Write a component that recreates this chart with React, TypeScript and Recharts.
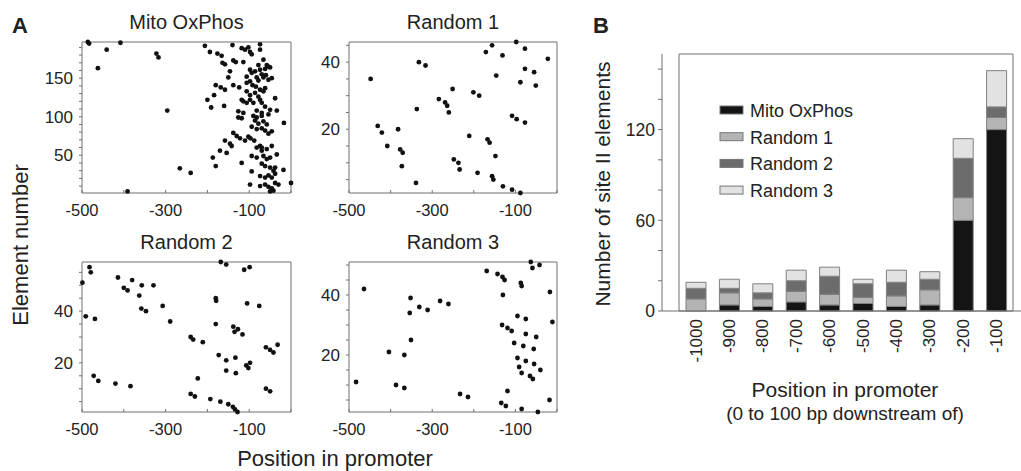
import React from 'react';
import {
  ScatterChart,
  Scatter,
  XAxis,
  YAxis,
  ReferenceArea,
  BarChart,
  Bar,
} from 'recharts';

// ---- panel A: element positions (x = position in promoter, y = element number)
const mitoOxPhos: [number, number][] = [
  [-486, 197], [-483, 195], [-441, 187], [-408, 196], [-462, 163], [-322, 182], [-317, 177],
  [-296, 108], [-266, 33], [-240, 27], [-391, 3],
  [-206, 192], [-194, 184], [-176, 182], [-166, 179], [-140, 193], [-118, 189], [-110, 187],
  [-102, 190], [-98, 184], [-94, 181], [-74, 194], [-74, 187],
  [-164, 170], [-158, 168], [-138, 173], [-132, 171], [-114, 171], [-66, 174], [-78, 167],
  [-58, 167], [-50, 164],
  [-146, 159], [-98, 161], [-94, 157], [-86, 159], [-74, 161], [-70, 155], [-62, 162], [-54, 165],
  [-150, 151], [-106, 152], [-82, 151], [-78, 147], [-66, 151], [-60, 154], [-54, 148], [-46, 150],
  [-180, 141], [-168, 138], [-158, 135], [-184, 128], [-200, 122], [-138, 141], [-124, 138],
  [-106, 144], [-98, 146], [-92, 141], [-84, 139], [-74, 135], [-66, 133], [-106, 133], [-98, 128],
  [-86, 131], [-78, 126], [-62, 137], [-38, 124],
  [-191, 112], [-160, 114], [-118, 122], [-114, 120], [-106, 118], [-98, 122], [-90, 118],
  [-74, 122], [-70, 118], [-62, 113], [-50, 109],
  [-126, 107], [-114, 105], [-82, 108], [-70, 105], [-54, 103], [-34, 108],
  [-126, 99], [-118, 98], [-90, 101], [-82, 99], [-70, 101],
  [-86, 95], [-78, 91], [-66, 94], [-58, 90], [-17, 92],
  [-94, 87], [-82, 84], [-70, 85], [-62, 82], [-54, 78], [-46, 81],
  [-138, 79], [-130, 75], [-122, 72], [-110, 69], [-102, 74], [-97, 72], [-88, 69],
  [-158, 69], [-146, 65], [-142, 62],
  [-74, 62], [-70, 60], [-58, 58], [-82, 60], [-70, 56], [-46, 62], [-34, 51],
  [-170, 56], [-154, 53],
  [-94, 49], [-82, 47], [-66, 49], [-58, 45], [-50, 47],
  [-187, 47], [-180, 36], [-118, 40],
  [-70, 39], [-62, 36], [-50, 34], [-42, 30], [-38, 34], [-18, 31], [-94, 29],
  [-74, 23], [-62, 21], [-54, 24], [-46, 21], [-38, 26],
  [-98, 12], [-74, 10], [-62, 12], [-54, 9], [-46, 7], [-38, 14], [-30, 12],
  [-50, 3], [-42, 4], [0, 14],
];

const random1: [number, number][] = [
  [-448, 35], [-431, 21], [-421, 19], [-408, 15], [-382, 20], [-377, 14], [-371, 13], [-373, 9],
  [-339, 4], [-337, 26], [-332, 40], [-316, 39], [-284, 29], [-269, 28], [-264, 27], [-260, 25],
  [-251, 32], [-248, 11], [-237, 10], [-234, 8], [-211, 18], [-201, 31], [-187, 30], [-191, 7],
  [-171, 43], [-167, 17], [-162, 16], [-156, 45], [-148, 12], [-146, 36], [-156, 6], [-153, 5],
  [-131, 42], [-130, 3], [-108, 2], [-108, 24], [-97, 23], [-98, 46], [-88, 34], [-88, 1],
  [-77, 44], [-77, 38], [-77, 22], [-55, 37], [-51, 33], [-22, 41],
];

const random2: [number, number][] = [
  [-499, 51], [-491, 38], [-482, 57], [-479, 55], [-469, 37], [-472, 15], [-461, 13], [-420, 12],
  [-414, 53], [-400, 49], [-391, 48], [-384, 11], [-380, 52], [-363, 46], [-357, 50], [-358, 41],
  [-347, 40], [-329, 50], [-307, 42], [-289, 36], [-240, 30], [-234, 29], [-240, 8], [-230, 7],
  [-223, 14], [-211, 28], [-193, 6], [-180, 45], [-179, 44], [-180, 35], [-173, 23], [-169, 5],
  [-168, 59], [-155, 58], [-155, 21], [-155, 17], [-150, 4], [-138, 34], [-127, 33], [-135, 32],
  [-139, 3], [-134, 2], [-133, 22], [-132, 16], [-128, 1], [-116, 31], [-112, 56], [-107, 19],
  [-102, 18], [-105, 43], [-99, 57], [-98, 20], [-76, 42], [-60, 26], [-50, 25], [-42, 24],
  [-32, 27], [-60, 10], [-50, 9],
];

const random3: [number, number][] = [
  [-483, 11], [-464, 42], [-404, 21], [-387, 10], [-367, 20], [-367, 9], [-352, 39], [-354, 34],
  [-351, 25], [-331, 36], [-311, 35], [-281, 38], [-261, 37], [-233, 7], [-214, 6], [-169, 48],
  [-143, 47], [-131, 46], [-126, 45], [-130, 40], [-134, 4], [-123, 3], [-132, 30], [-119, 29],
  [-109, 28], [-119, 8], [-103, 24], [-95, 33], [-95, 19], [-91, 16], [-87, 44], [-85, 43],
  [-85, 14], [-85, 2], [-81, 23], [-75, 32], [-75, 27], [-75, 18], [-63, 51], [-59, 49],
  [-65, 13], [-58, 12], [-56, 22], [-55, 17], [-50, 26], [-46, 1], [-42, 50], [-40, 15],
  [-17, 41], [-18, 5], [-11, 31],
];

const xTicks = [-500, -400, -300, -200, -100, 0];
const xTickLabels = [-500, -300, -100];
const mitoYTicks = [10, 20, 30, 40, 50, 60, 70, 80, 90, 100, 110, 120, 130, 140, 150, 160, 170, 180, 190];
const mitoYLabels = [50, 100, 150];
const randYTicks = [5, 10, 15, 20, 25, 30, 35, 40, 45, 50, 55];
const randYLabels = [20, 40];

// ---- panel B: stacked counts per 100 bp window
const positions = ['-1000', '-900', '-800', '-700', '-600', '-500', '-400', '-300', '-200', '-100'];
const mitoCounts = [0, 4, 3, 6, 4, 5, 3, 4, 60, 120];
const random1Counts = [8, 8, 5, 7, 7, 4, 7, 10, 15, 8];
const random2Counts = [7, 3, 4, 7, 12, 9, 9, 7, 26, 7];
const random3Counts = [4, 6, 6, 7, 6, 3, 8, 5, 13, 24];
const barYTicks = [0, 20, 40, 60, 80, 100, 120, 140, 160];
const barYLabels = [0, 60, 120];

const barData = positions.map((p, i) => ({
  pos: p,
  mito: mitoCounts[i],
  r1: random1Counts[i],
  r2: random2Counts[i],
  r3: random3Counts[i],
}));

const FONT = 'Arial, "Liberation Sans", sans-serif';
const INK = '#222';
const FRAME = '#707070';

const C_MITO = '#141414';
const C_R1 = '#b4b4b4';
const C_R2 = '#6c6c6c';
const C_R3 = '#e2e2e2';

type PanelProps = {
  title: string;
  points: [number, number][];
  yMax: number;
  yTicks: number[];
  yLabels: number[];
  plotLeft: number;
  plotTop: number;
  plotW: number;
  plotH: number;
};

const AXIS_W = 50;
const TOP_PAD = 4;

const Panel = ({ title, points, yMax, yTicks, yLabels, plotLeft, plotTop, plotW, plotH }: PanelProps) => {
  const data = points.map(([x, y]) => ({ x, y }));
  const bottom = TOP_PAD + plotH;
  return (
    <div style={{ position: 'absolute', left: plotLeft - AXIS_W, top: plotTop - TOP_PAD }}>
      <ScatterChart
        width={AXIS_W + plotW + 6}
        height={TOP_PAD + plotH + 30}
        margin={{ top: TOP_PAD, right: 6, bottom: 0, left: 0 }}
      >
        <XAxis
          type="number"
          dataKey="x"
          domain={[-500, 0]}
          ticks={xTicks}
          interval={0}
          height={30}
          axisLine={false}
          tickSize={-3}
          tickLine={{ stroke: FRAME }}
          tick={(p: any) =>
            xTickLabels.includes(p.payload.value) ? (
              <text x={p.x} y={bottom + 23} textAnchor="middle" fontFamily={FONT} fontSize={16.5} fill={INK}>
                {p.payload.value}
              </text>
            ) : (
              <g />
            )
          }
        />
        <YAxis
          type="number"
          dataKey="y"
          domain={[1, yMax]}
          ticks={yTicks.filter((t) => t < yMax)}
          interval={0}
          width={AXIS_W}
          axisLine={false}
          tickSize={3}
          tickLine={{ stroke: FRAME }}
          tick={(p: any) =>
            yLabels.includes(p.payload.value) ? (
              <text x={AXIS_W - 9} y={p.y} dy="0.36em" textAnchor="end" fontFamily={FONT} fontSize={17} fill={INK}>
                {p.payload.value}
              </text>
            ) : (
              <g />
            )
          }
        />
        <ReferenceArea x1={-500} x2={0} y1={1} y2={yMax} fill="none" stroke={FRAME} strokeWidth={1} />
        <Scatter
          data={data}
          isAnimationActive={false}
          shape={(p: any) => <circle cx={p.cx} cy={p.cy} r={2.4} fill="#111" />}
        />
      </ScatterChart>
      <div
        style={{
          position: 'absolute',
          left: AXIS_W,
          width: plotW,
          top: TOP_PAD - 30,
          textAlign: 'center',
          fontFamily: FONT,
          fontSize: 20,
          color: INK,
          lineHeight: '20px',
        }}
      >
        {title}
      </div>
    </div>
  );
};

const BarXTick = ({ x, y, payload }: any) => (
  <text
    x={x}
    y={y}
    dy="0.35em"
    textAnchor="end"
    transform={`rotate(-90, ${x}, ${y})`}
    fontFamily={FONT}
    fontSize={17}
    fill={INK}
  >
    {payload.value}
  </text>
);

const BarYTick = ({ x, y, payload }: any) =>
  barYLabels.includes(payload.value) ? (
    <text x={x} y={y} dx={-1} dy="0.36em" textAnchor="end" fontFamily={FONT} fontSize={17.5} fill={INK}>
      {payload.value}
    </text>
  ) : (
    <g />
  );

const legendItems = [
  { label: 'Mito OxPhos', color: C_MITO },
  { label: 'Random 1', color: C_R1 },
  { label: 'Random 2', color: C_R2 },
  { label: 'Random 3', color: C_R3 },
];

export default function App() {
  return (
    <div
      style={{
        position: 'absolute',
        left: 0,
        top: 0,
        width: 1021,
        height: 471,
        overflow: 'hidden',
        background: '#fff',
      }}
    >
      <Panel title="Mito OxPhos" points={mitoOxPhos} yMax={197} yTicks={mitoYTicks} yLabels={mitoYLabels}
        plotLeft={82} plotTop={42} plotW={209} plotH={151} />
      <Panel title="Random 1" points={random1} yMax={46} yTicks={randYTicks} yLabels={randYLabels}
        plotLeft={349} plotTop={42} plotW={208} plotH={151} />
      <Panel title="Random 2" points={random2} yMax={59} yTicks={randYTicks} yLabels={randYLabels}
        plotLeft={82} plotTop={262} plotW={209} plotH={150} />
      <Panel title="Random 3" points={random3} yMax={51} yTicks={randYTicks} yLabels={randYLabels}
        plotLeft={349} plotTop={262} plotW={208} plotH={150} />

      <div style={{ position: 'absolute', left: 590, top: 0 }}>
        <BarChart
          width={440}
          height={471}
          data={barData}
          margin={{ top: 54, right: 0, bottom: 130, left: 0 }}
          barSize={20}
        >
          <XAxis
            dataKey="pos"
            padding={{ left: 17, right: 17 }}
            height={30}
            interval={0}
            tickLine={false}
            axisLine={{ stroke: FRAME }}
            tick={<BarXTick />}
          />
          <YAxis
            domain={[0, 170]}
            ticks={barYTicks}
            interval={0}
            width={72}
            tickSize={4}
            axisLine={{ stroke: FRAME }}
            tickLine={{ stroke: FRAME }}
            tick={<BarYTick />}
          />
          <ReferenceArea y1={0} y2={170} fill="none" stroke={FRAME} strokeWidth={1} />
          <Bar dataKey="mito" stackId="s" fill={C_MITO} stroke="#808080" isAnimationActive={false} />
          <Bar dataKey="r1" stackId="s" fill={C_R1} stroke="#808080" isAnimationActive={false} />
          <Bar dataKey="r2" stackId="s" fill={C_R2} stroke="#808080" isAnimationActive={false} />
          <Bar dataKey="r3" stackId="s" fill={C_R3} stroke="#808080" isAnimationActive={false} />
        </BarChart>
      </div>

      <svg width={1021} height={471} style={{ position: 'absolute', left: 0, top: 0, pointerEvents: 'none' }}>
        <g fontFamily={FONT} fill={INK}>
          <text x={12} y={33} fontSize={22} fontWeight="bold">A</text>
          <text x={593} y={33} fontSize={22} fontWeight="bold">B</text>
          <text x={28} y={245} fontSize={22} textAnchor="middle" transform="rotate(-90, 28, 245)">
            Element number
          </text>
          <text x={335} y={466} fontSize={22} textAnchor="middle">Position in promoter</text>
          <text x={610} y={184} fontSize={21} textAnchor="middle" transform="rotate(-90, 610, 184)">
            Number of site II elements
          </text>
          <text x={845} y={397} fontSize={21} textAnchor="middle">Position in promoter</text>
          <text x={845} y={420} fontSize={19} textAnchor="middle">(0 to 100 bp downstream of)</text>
          {legendItems.map((it, i) => (
            <g key={it.label}>
              <rect x={720} y={106 + i * 26.7} width={23} height={8} fill={it.color} stroke="#777" />
              <text x={750} y={117 + i * 26.7} fontSize={18}>{it.label}</text>
            </g>
          ))}
        </g>
      </svg>
    </div>
  );
}
